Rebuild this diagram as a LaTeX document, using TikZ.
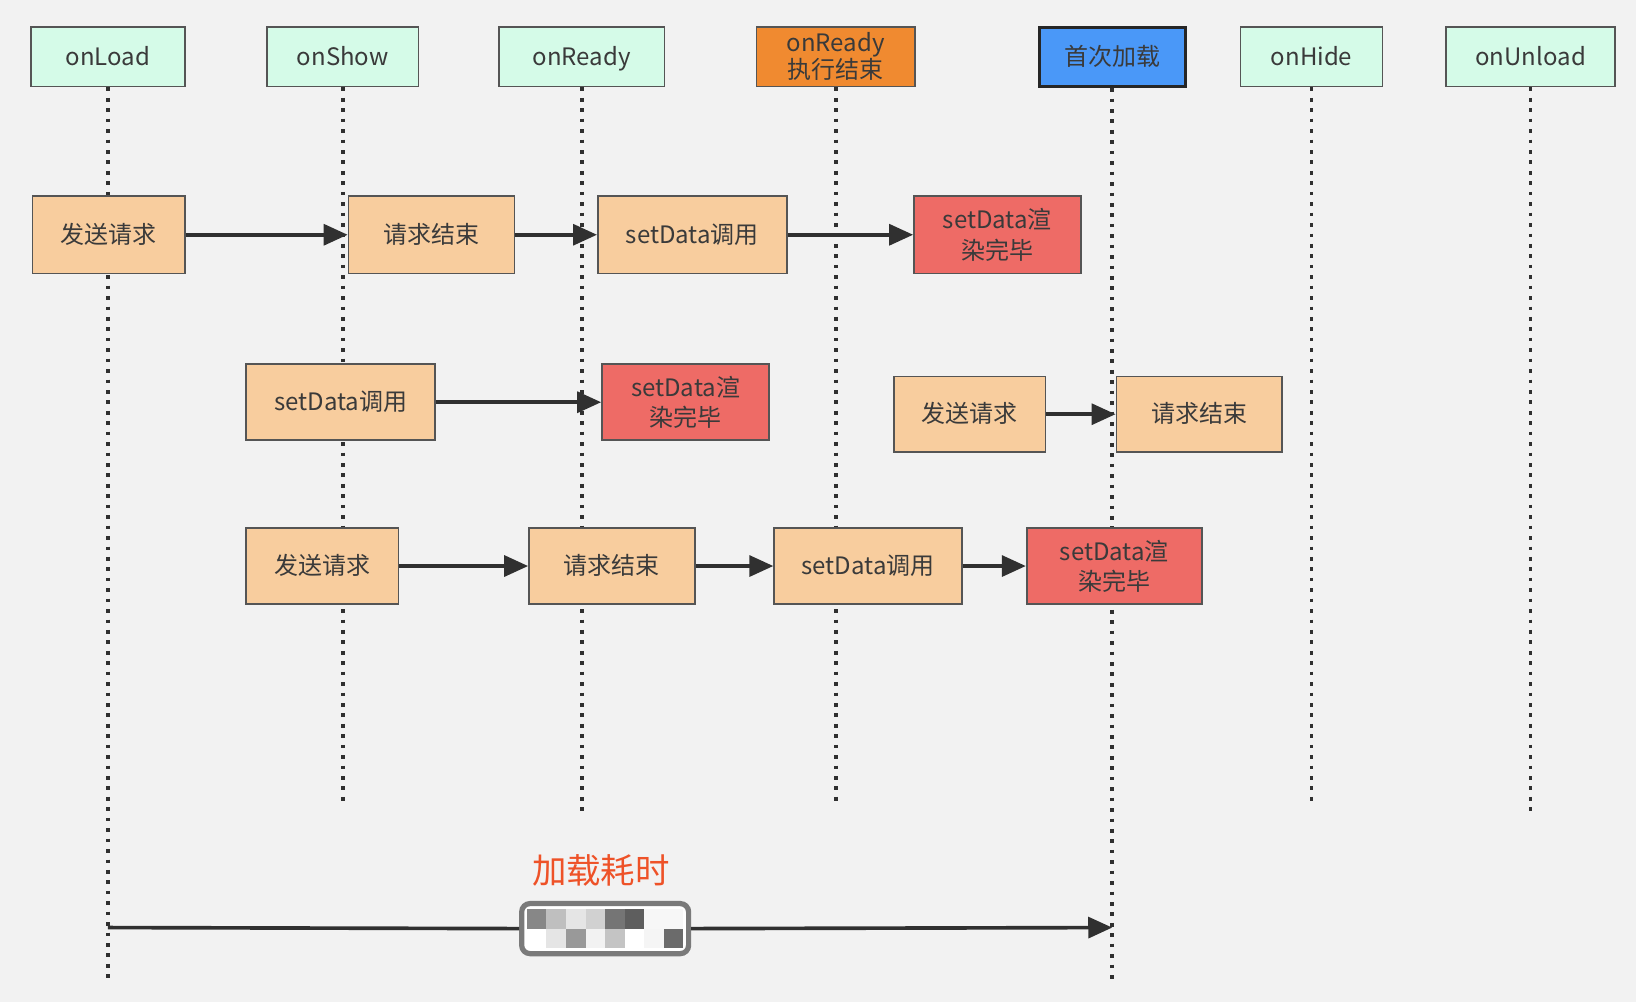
\documentclass[tikz,border=0pt]{standalone}
\usepackage{fontspec}
\setmainfont{Noto Sans CJK SC}
\usetikzlibrary{arrows.meta}
\definecolor{cBg}{HTML}{F2F2F2}
\definecolor{cMint}{HTML}{D5FBE8}
\definecolor{cOrange}{HTML}{F08A30}
\definecolor{cBlue}{HTML}{4A98F8}
\definecolor{cPeach}{HTML}{F8CD9E}
\definecolor{cRed}{HTML}{EE6B66}
\definecolor{cBorder}{HTML}{555555}
\definecolor{cText}{HTML}{3A3A3A}
\definecolor{cLine}{HTML}{303030}
\definecolor{cLabel}{HTML}{EE5228}
\definecolor{cMosaic}{HTML}{7A7A7A}
\begin{document}
\begin{tikzpicture}[x=1pt,y=-1pt,
  base/.style={draw=cBorder, line width=1.6pt, inner sep=0pt, align=center, text=cText,
    font=\fontsize{23}{29}\selectfont},
  oneline/.style={text height=19pt, text depth=3pt},
  hdr/.style={base, oneline, fill=cMint, minimum height=57pt},
  hdrorange/.style={base, fill=cOrange, minimum height=57pt},
  hdrblue/.style={base, oneline, fill=cBlue, draw=black!85, line width=3pt, minimum height=57pt},
  stepbox/.style={base, oneline, fill=cPeach, minimum height=73pt},
  donebox/.style={base, fill=cRed, minimum height=73pt},
  life/.style={draw=cLine, line width=3.5pt, dash pattern=on 3.5pt off 6.5pt},
  conn/.style={draw=cLine, line width=3.5pt, -{Triangle[length=23pt,width=20pt]}}
]
\fill[cBg] (0,0) rectangle (1568,960);
\useasboundingbox (0,0) rectangle (1568,960);

% headers
\node[hdr, minimum width=147pt] (hL) at (103.5,54.5) {onLoad};
\node[hdr, minimum width=145pt] (hS) at (328.5,54.5) {onShow};
\node[hdr, minimum width=159pt] (hR) at (557.5,54.5) {onReady};
\node[hdrorange, minimum width=152pt] (hE) at (801,54.5) {onReady\\[-3pt]执行结束};
\node[hdrblue, minimum width=140pt] (hF) at (1066,54.5) {首次加载};
\node[hdr, minimum width=136pt] (hH) at (1257,54.5) {onHide};
\node[hdr, minimum width=162pt] (hU) at (1467,54.5) {onUnload};

% lifeline ends
\coordinate (eL) at (hL.south |- 0,940);
\coordinate (eS) at (hS.south |- 0,768);
\coordinate (eR) at (hR.south |- 0,782);
\coordinate (eE) at (hE.south |- 0,768);
\coordinate (eF) at (hF.south |- 0,940);
\coordinate (eH) at (hH.south |- 0,768);
\coordinate (eU) at (hU.south |- 0,782);
\foreach \h/\e in {hL/eL,hS/eS,hR/eR,hE/eE,hF/eF,hH/eH,hU/eU}
  \draw[life] (\h.south) -- (\e);

% row 1
\node[stepbox, minimum width=146pt, minimum height=74pt] (a1) at (104,225) {发送请求};
\node[stepbox, minimum width=159pt, minimum height=74pt] (a2) at (413.5,225) {请求结束};
\node[stepbox, minimum width=181pt, minimum height=74pt] (a3) at (663.5,225) {setData调用};
\node[donebox, minimum width=160pt, minimum height=74pt] (a4) at (956,225) {setData渲\\染完毕};
\draw[conn] (a1) -- (a2);
\draw[conn] (a2) -- (a3);
\draw[conn] (a3) -- (a4);

% row 2
\node[stepbox, minimum width=181pt] (b1) at (326.5,385.5) {setData调用};
\node[donebox, minimum width=160pt] (b2) at (657,385.5) {setData渲\\染完毕};
\node[stepbox, minimum width=145pt, minimum height=72pt] (b3) at (929.5,397) {发送请求};
\node[stepbox, minimum width=159pt, minimum height=72pt] (b4) at (1149.5,397) {请求结束};
\draw[conn] (b1) -- (b2);
\draw[conn] (b3) -- (b4);

% row 3
\node[stepbox, minimum width=146pt] (c1) at (309,542.5) {发送请求};
\node[stepbox, minimum width=159pt] (c2) at (586.5,542.5) {请求结束};
\node[stepbox, minimum width=180pt] (c3) at (832,542.5) {setData调用};
\node[donebox, minimum width=168pt] (c4) at (1068,542.5) {setData渲\\染完毕};
\draw[conn] (c1) -- (c2);
\draw[conn] (c2) -- (c3);
\draw[conn] (c3) -- (c4);

% load time
\node[text=cLabel, font=\fontsize{33}{36}\selectfont, inner sep=0pt] (lbl) at (576,834) {加载耗时};
\node[draw=cMosaic, fill=white, line width=5pt, rounded corners=8pt, minimum width=160pt,
      minimum height=48pt, inner sep=0pt] (mos) at (580,890) {};
\foreach \v [count=\i from 0] in {53,75,90,82,46,37,97,97}
  \fill[white!\v!black] (505+\i*18.75,871) rectangle (505+\i*18.75+18.75,890);
\foreach \v [count=\i from 0] in {100,90,60,95,77,100,96,42}
  \fill[white!\v!black] (505+\i*18.75,890) rectangle (505+\i*18.75+18.75,909);
\coordinate (tS) at (eL |- 0,889);
\coordinate (tE) at (eF |- 0,889);
\draw[draw=cLine, line width=3.5pt] (tS) -- (mos.west);
\draw[conn] (mos.east) -- (tE);
\end{tikzpicture}
\end{document}
